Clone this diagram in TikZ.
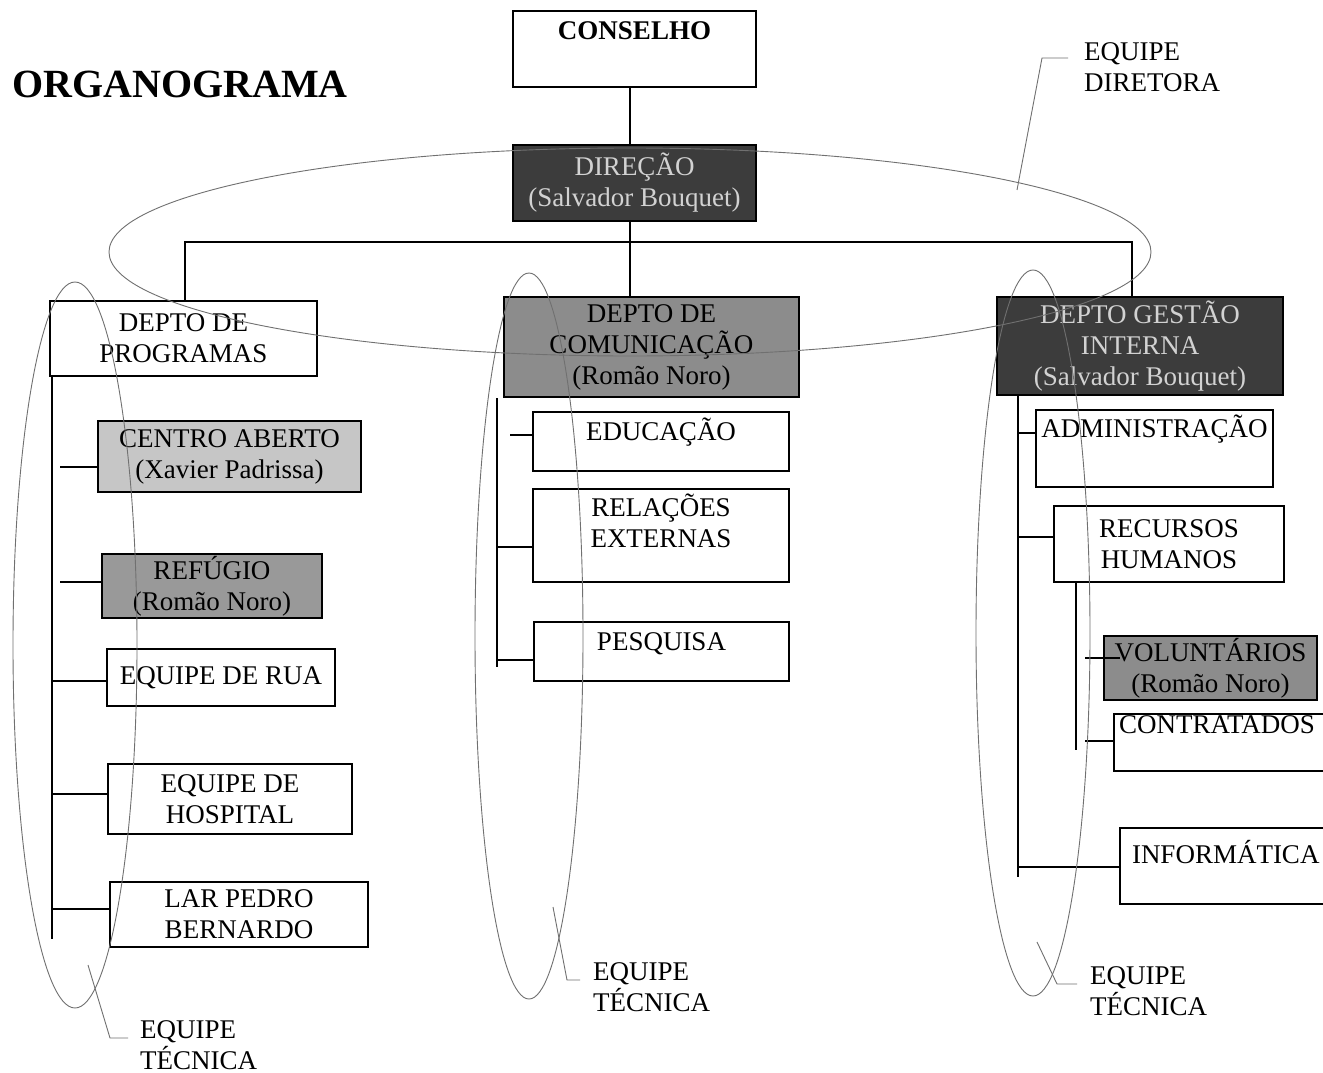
\documentclass[tikz,border=0pt]{standalone}
\usepackage{fontspec}
\setmainfont{Liberation Serif}
\newcommand\chartfont{\fontsize{27}{31}\selectfont}
\newcommand\titlefont{\fontsize{40}{48}\selectfont\bfseries}
\definecolor{darkfill}{HTML}{3C3C3C}
\definecolor{midfill}{HTML}{8C8C8C}
\definecolor{greyfill}{HTML}{999999}
\definecolor{lightfill}{HTML}{C6C6C6}
\definecolor{palefont}{HTML}{D2D2D2}
\definecolor{teamline}{HTML}{707070}
\begin{document}
\begin{tikzpicture}[x=1pt,y=-1pt,
  box/.style={draw=black,line width=2.2pt,rectangle,inner sep=0pt,align=center,font=\chartfont},
  txt/.style={inner sep=0pt,align=center,font=\chartfont},
  lbl/.style={inner sep=0pt,align=left,font=\chartfont,anchor=north west},
  conn/.style={line width=2.8pt},
  team/.style={draw=teamline,line width=0.9pt},
  lead/.style={draw=teamline,line width=0.9pt}]
\useasboundingbox (0,0) rectangle (1323,1073);
\fill[white] (0,0) rectangle (1323,1073);

% title
\node[inner sep=0pt,anchor=base west,font=\titlefont] (title) at (12,98) {ORGANOGRAMA};

% top level
\node[box,minimum width=243pt,text height=29pt,text depth=47pt,font=\chartfont\bfseries] (cons) at (634.5,49) {CONSELHO};
\node[box,fill=darkfill,text=palefont,minimum width=243pt,minimum height=76pt] (dir) at (634.5,183) {DIREÇÃO\\(Salvador Bouquet)};

% departments
\node[box,minimum width=267pt,minimum height=75pt] (prog) at (183.5,338.5) {DEPTO DE\\PROGRAMAS};
\node[box,fill=midfill,minimum width=295pt,minimum height=100pt] (com) at (651.5,347) {DEPTO DE\\COMUNICAÇÃO\\(Romão Noro)};
\node[box,fill=darkfill,text=palefont,minimum width=286pt,minimum height=98pt] (gest) at (1140,346) {DEPTO GESTÃO\\INTERNA\\(Salvador Bouquet)};

% programmes
\node[box,fill=lightfill,minimum width=263pt,minimum height=71pt] (centro) at (229.5,456.5) {CENTRO ABERTO\\(Xavier Padrissa)};
\node[box,fill=greyfill,minimum width=220pt,minimum height=64pt] (refugio) at (212,586) {REFÚGIO\\(Romão Noro)};
\node[box,minimum width=228pt,minimum height=57pt] (rua) at (221,677.5) {EQUIPE DE RUA};
\node[box,minimum width=244pt,minimum height=70pt] (hosp) at (230,799) {EQUIPE DE\\HOSPITAL};
\node[box,minimum width=258pt,minimum height=65pt] (lar) at (239,914.5) {LAR PEDRO\\BERNARDO};

% communication
\node[box,minimum width=256pt,text height=28pt,text depth=31pt] (edu) at (661,441.5) {EDUCAÇÃO};
\node[box,minimum width=256pt,minimum height=93pt] (rel) at (661,535.5) {};
\node[txt,anchor=north] (relt) at (661,494) {RELAÇÕES\\EXTERNAS};
\node[box,line width=1.4pt,minimum width=255pt,text height=28pt,text depth=31pt] (pesq) at (661.5,651.5) {PESQUISA};

% internal management
\node[box,minimum width=237pt,text height=27pt,text depth=50pt] (adm) at (1154.5,448.5) {ADMINISTRAÇÃO};
\node[box,minimum width=230pt,minimum height=76pt] (rh) at (1169,544) {RECURSOS\\HUMANOS};
\node[box,fill=midfill,minimum width=213pt,minimum height=64pt] (vol) at (1210.5,668) {VOLUNTÁRIOS\\(Romão Noro)};
\node[box,align=left,inner xsep=5pt,text width=221pt,text height=19pt,text depth=38pt] (contr) at (1229.5,742.5) {CONTRATADOS};
\node[box,align=left,inner xsep=12pt,text width=201pt,text height=35pt,text depth=41pt] (info) at (1232.5,866) {INFORMÁTICA};

% hierarchy connectors
\coordinate (j) at (630,242);
\coordinate (bl) at (185,242);
\coordinate (br) at (1132,242);
\draw[conn] (cons.south -| j) -- (dir.north -| j);
\draw[conn] (dir.south -| j) -- (com.north -| j);
\draw[conn] (prog.north -| bl) -- (bl) -- (br) -- (gest.north -| br);

% programmes branch
\coordinate (lspine) at (52,939);
\draw[conn] (prog.south -| lspine) -- (lspine);
\draw[conn] (60,467) -- (centro.west |- 60,467);
\draw[conn] (60,582) -- (refugio.west |- 60,582);
\draw[conn] (52,681) -- (rua.west |- 52,681);
\draw[conn] (52,794) -- (hosp.west |- 52,794);
\draw[conn] (52,909) -- (lar.west |- 52,909);

% communication branch
\coordinate (mspine) at (497,667);
\draw[conn] (com.south -| mspine) -- (mspine);
\draw[conn] (510,435) -- (edu.west |- 510,435);
\draw[conn] (497,547) -- (rel.west |- 497,547);
\draw[conn] (497,660) -- (pesq.west |- 497,660);

% internal management branch
\coordinate (rspine) at (1018,877);
\draw[conn] (gest.south -| rspine) -- (rspine);
\draw[conn] (1018,433) -- (adm.west |- 1018,433);
\draw[conn] (1018,537) -- (rh.west |- 1018,537);
\draw[conn] (1018,867) -- (info.west |- 1018,867);
\coordinate (sspine) at (1076,750);
\draw[conn] (rh.south -| sspine) -- (sspine);
\draw[conn] (1085,658) -- (1120,658);
\draw[conn] (1085,741) -- (contr.west |- 1085,741);

% team groupings
\draw[team] (630,252) ellipse [x radius=521, y radius=104];
\draw[team] (75,645) ellipse [x radius=62, y radius=363];
\draw[team] (529,636) ellipse [x radius=54, y radius=363];
\draw[team] (1033,633) ellipse [x radius=57, y radius=363];

% team labels
\draw[lead] (1017,190) -- (1042,58) -- (1068,58);
\node[lbl] (ldir) at (1084,42) {EQUIPE\\DIRETORA};
\draw[lead] (88,965) -- (110,1038) -- (128,1038);
\node[lbl] (ltec1) at (140,1020) {EQUIPE\\TÉCNICA};
\draw[lead] (553,907) -- (567,980) -- (580,980);
\node[lbl] (ltec2) at (593,962) {EQUIPE\\TÉCNICA};
\draw[lead] (1037,942) -- (1057,984) -- (1077,984);
\node[lbl] (ltec3) at (1090,966) {EQUIPE\\TÉCNICA};
\end{tikzpicture}
\end{document}
